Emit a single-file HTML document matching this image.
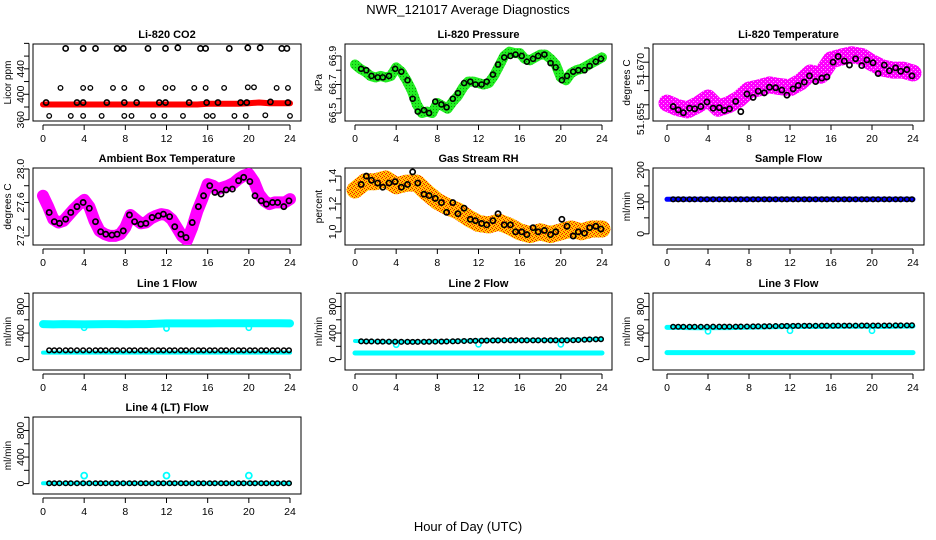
<!DOCTYPE html>
<html><head><meta charset="utf-8"><style>
html,body{margin:0;padding:0;background:#fff;}
svg{display:block;font-family:"Liberation Sans",Arial,sans-serif;}
</style></head><body>
<svg id="chart" width="936" height="540" viewBox="0 0 936 540" xmlns="http://www.w3.org/2000/svg">
<defs>
<pattern id="rhpat" width="4" height="4" patternUnits="userSpaceOnUse"><rect width="4" height="4" fill="#ffc400"/><rect x="0" y="0" width="1" height="1" fill="#ee1100"/><rect x="2" y="1" width="1" height="1" fill="#ee1100"/><rect x="1" y="2" width="1" height="1" fill="#ff2200"/><rect x="3" y="3" width="1" height="1" fill="#ff2200"/></pattern>
<pattern id="grpat" width="3" height="3" patternUnits="userSpaceOnUse"><rect width="3" height="3" fill="#22ee22"/><rect x="1" y="1" width="1" height="1" fill="#119911"/></pattern>
<pattern id="mgpat" width="4" height="4" patternUnits="userSpaceOnUse"><rect width="4" height="4" fill="#ff00ff"/><rect x="1" y="1" width="1" height="1" fill="#ff99ff"/><rect x="3" y="3" width="1" height="1" fill="#ffaaff"/></pattern>
</defs>
<rect width="936" height="540" fill="#fff"/>
<text x="468" y="14" font-size="13" text-anchor="middle">NWR_121017  Average Diagnostics</text>
<text x="468" y="531" font-size="13" text-anchor="middle">Hour of Day (UTC)</text>
<g id="panels"></g>
</svg>
<script>
// shared x positions of black (average) points, hours
const blackX = [0.6,1.1,1.6,2.2,2.7,3.3,3.9,4.5,5.1,5.6,6.1,6.7,7.2,7.8,8.4,8.9,9.5,10.0,10.6,11.2,11.7,12.3,12.8,13.4,13.9,14.5,15.1,15.6,16.2,16.7,17.3,17.8,18.4,19.0,19.5,20.1,20.6,21.2,21.7,22.3,22.8,23.4,23.9];
const bandXHalf = [0,0.5,1,1.5,2,2.5,3,3.5,4,4.5,5,5.5,6,6.5,7,7.5,8,8.5,9,9.5,10,10.5,11,11.5,12,12.5,13,13.5,14,14.5,15,15.5,16,16.5,17,17.5,18,18.5,19,19.5,20,20.5,21,21.5,22,22.5,23,23.5,24];
const bandXHour = [0,1,2,3,4,5,6,7,8,9,10,11,12,13,14,15,16,17,18,19,20,21,22,23,24];
const xTicks = [0,4,8,12,16,20,24];

// CO2
const co2BandY = [384,384,384,384,384,384,384,384,384,384,384,384,384,384,384,384,385,385,385,385,386,387,386,386,386];
const co2TopX = [2.2,3.9,5.1,7.2,7.8,10.2,11.9,13.1,15.3,15.8,18.1,19.9,21.1,23.2,23.7];
const co2TopY = [472,472,472,472,472,472,472,473,472,472,472,473,473,472,472];
const co2MidX = [1.7,3.9,4.6,6.8,7.9,9.6,11.9,12.6,14.7,15.8,17.6,19.9,20.5,22.7,23.8];
const co2MidY = [410,410,410,410,410,410,410,410,410,410,410,411,411,410,410];
const co2LowX = [0.3,3.3,3.9,6.2,7.9,9.1,11.3,11.9,14.2,15.9,17.0,19.2,19.8,22.1,23.8];
const co2LowY = [387,387,387,387,387,387,387,387,387,387,387,387,387,388,387];
const co2BotX = [0.6,2.7,3.9,5.7,7.9,8.6,10.7,11.8,13.6,15.9,16.5,18.6,19.7,21.6,24.0];
const co2BotY = [366,366,366,366,366,366,366,366,366,366,366,366,366,367,366];

// Pressure
const presBand = [66.84,66.81,66.79,66.76,66.75,66.76,66.75,66.76,66.82,66.79,66.73,66.66,66.56,66.5,66.51,66.5,66.57,66.55,66.53,66.58,66.62,66.68,66.72,66.72,66.71,66.7,66.71,66.76,66.83,66.9,66.93,66.92,66.92,66.88,66.87,66.89,66.91,66.91,66.88,66.84,66.75,66.73,66.78,66.8,66.81,66.83,66.85,66.87,66.89];
const presBlack = [66.81,66.8,66.76,66.75,66.75,66.76,66.81,66.79,66.73,66.6,66.51,66.52,66.5,66.58,66.56,66.54,66.6,66.64,66.71,66.72,66.7,66.7,66.72,66.77,66.84,66.89,66.9,66.91,66.9,66.86,66.88,66.9,66.91,66.85,66.82,66.73,66.76,66.79,66.8,66.8,66.83,66.86,66.88];

// Li-820 temperature
const tempBand = [51.6578,51.6570,51.6566,51.6575,51.6587,51.6569,51.6575,51.6585,51.6601,51.6605,51.6610,51.6607,51.6605,51.6615,51.6631,51.6627,51.6654,51.6659,51.6663,51.6660,51.6649,51.6640,51.6636,51.6636,51.6631];
const tempBlack = [51.6572,51.6566,51.6561,51.6569,51.6568,51.6572,51.6580,51.6569,51.6570,51.6565,51.6568,51.6581,51.6563,51.6594,51.6588,51.6599,51.6596,51.6606,51.6605,51.6601,51.6592,51.6603,51.6609,51.6615,51.6626,51.6616,51.6622,51.6624,51.6650,51.6660,51.6652,51.6645,51.6656,51.6644,51.6654,51.6649,51.6630,51.6645,51.6635,51.6640,51.6634,51.6637,51.6626];
const tempTicks = [51.655,51.6575,51.660,51.6625,51.665,51.6675];
const tempLabelVals = [51.655,51.6638];
const tempLabels = ["51.655","51.670"];

// Ambient box temperature
const ambBand = [27.68,27.55,27.4,27.36,27.38,27.45,27.52,27.58,27.63,27.55,27.38,27.26,27.22,27.2,27.2,27.22,27.3,27.45,27.4,27.35,27.36,27.41,27.44,27.46,27.45,27.4,27.3,27.2,27.15,27.3,27.5,27.65,27.82,27.8,27.76,27.78,27.8,27.83,27.88,27.92,27.94,27.85,27.7,27.62,27.58,27.6,27.6,27.6,27.64];
const ambBlack = [27.48,27.37,27.35,27.4,27.48,27.55,27.6,27.53,27.37,27.25,27.22,27.21,27.22,27.26,27.45,27.37,27.34,27.35,27.42,27.44,27.46,27.43,27.31,27.22,27.18,27.36,27.55,27.68,27.8,27.72,27.7,27.75,27.76,27.86,27.9,27.85,27.68,27.62,27.58,27.6,27.6,27.55,27.62];

// Gas stream RH
const rhBand = [1.3,1.36,1.36,1.38,1.33,1.35,1.35,1.28,1.22,1.18,1.15,1.1,1.06,1.05,1.07,1.04,1.0,0.98,1.0,0.98,1.0,1.02,1.0,1.02,1.02];
const rhBlack = [1.34,1.4,1.37,1.35,1.32,1.35,1.36,1.32,1.34,1.43,1.35,1.27,1.26,1.24,1.21,1.14,1.21,1.13,1.17,1.09,1.08,1.06,1.05,1.08,1.13,1.05,1.05,1.0,1.0,0.98,1.03,1.0,1.01,0.98,1.0,1.09,1.04,0.97,1.0,0.99,1.03,1.04,1.02];

// Sample flow
const sampleBand = [108,108,108,108,108,108,108,108,108,108,108,108,108,108,108,108,108,108,108,108,108,108,108,108,108];
const sampleBlack = [108,108,108,108,108,108,108,108,108,108,108,108,108,108,108,108,108,108,108,108,108,108,108,108,108,108,108,108,108,108,108,108,108,108,108,108,108,108,108,108,108,108,108];

// Line flows
const l1Upper = [535,530,535,532,530,533,535,535,532,535,535,540,545,545,545,545,545,548,548,548,548,548,548,548,545];
const l1Lower = [105,105,105,105,105,105,105,105,105,105,105,105,105,105,105,105,105,105,105,105,105,105,105,105,105];
const l1Black = [140,140,140,140,140,140,140,140,140,140,140,140,140,140,140,140,140,140,140,140,140,140,140,140,140,140,140,140,140,140,140,140,140,140,140,140,140,140,140,140,140,140,140];
const l1OutX = [4,12,20];
const l1OutY = [480,470,480];

const l2Upper = [280,275,272,270,268,268,270,272,275,278,282,285,290,292,295,295,295,295,295,295,295,298,302,308,310];
const l2Lower = [100,100,100,100,100,100,100,100,100,100,100,100,100,100,100,100,100,100,100,100,100,100,100,100,100];
const l2Black = [275,274,273,272,271,270,270,268,268,267,268,268,270,271,272,273,275,277,280,282,284,285,287,288,289,290,290,290,290,290,290,290,291,291,291,290,290,292,295,300,304,306,308];
const l2OutX = [4,12,20];
const l2OutY = [225,230,230];

const l3Upper = [485,485,482,480,480,482,483,485,490,492,495,498,500,500,500,500,500,502,502,502,500,500,502,505,505];
const l3Lower = [105,105,105,105,105,105,105,105,105,105,105,105,105,105,105,105,105,105,105,105,105,105,105,105,105];
const l3Black = [495,495,495,495,495,495,495,496,496,496,497,497,498,499,500,501,502,503,505,506,507,508,509,510,510,510,511,511,511,512,512,512,512,513,513,513,513,514,514,515,515,516,517];
const l3OutX = [4,12,20];
const l3OutY = [425,435,435];

const l4Upper = [5,5,5,5,5,5,5,5,5,5,5,5,5,5,5,5,5,5,5,5,5,5,5,5,5];
const l4Black = [5,5,5,5,5,5,5,5,5,5,5,5,5,5,5,5,5,5,5,5,5,5,5,5,5,5,5,5,5,5,5,5,5,5,5,5,5,5,5,5,5,5,5];
const l4OutX = [4,12,20];
const l4OutY = [120,120,120];

const flowTicks = [0,200,400,600,800,1000];
const flowLabels = [0,400,800];

const NS = "http://www.w3.org/2000/svg";
const root = document.getElementById('panels');
const cols = [{l:33,r:301,x0:43,x24:290,tl:24,yl:11},{l:345,r:612,x0:355,x24:602,tl:336,yl:322},{l:653,r:924,x0:667,x24:913,tl:644,yl:630}];
const rowsTop = [44,168,293,417];
const boxH = 77;

function mk(tag, attrs, parent){const e=document.createElementNS(NS,tag);for(const k in attrs)e.setAttribute(k,attrs[k]);parent.appendChild(e);return e;}

function makePanel(col,row,name,title,ylab,lo,hi,ticks,labVals,labTexts){
  const c=cols[col],top=rowsTop[row],bot=top+boxH;
  const g=mk('g',{},root);
  
  
  const sx=v=>c.x0+(v/24)*(c.x24-c.x0);
  const sy=v=>bot-(v-lo)/(hi-lo)*boxH;
  const box=mk('rect',{x:c.l,y:top,width:c.r-c.l,height:boxH,fill:'none',stroke:'#000','stroke-width':1},g);
  
  
  const t=mk('text',{x:(c.l+c.r)/2,y:top-6,'font-size':11,'font-weight':'bold','text-anchor':'middle'},g);
  t.textContent=title;
  
  
  const yt=mk('text',{x:c.yl,y:(top+bot)/2,'font-size':10,'text-anchor':'middle',transform:`rotate(-90 ${c.yl} ${(top+bot)/2})`},g);
  yt.textContent=ylab;
  
  
  const xa=mk('g',{},g);
  
  
  mk('line',{x1:sx(0),x2:sx(24),y1:bot+4,y2:bot+4,stroke:'#000'},xa);
  xTicks.forEach(v=>{mk('line',{x1:sx(v),x2:sx(v),y1:bot+4,y2:bot+9,stroke:'#000'},xa);
    const tx=mk('text',{x:sx(v),y:bot+21,'font-size':10.5,'text-anchor':'middle'},xa);tx.textContent=v;
    
    });
  const ya=mk('g',{},g);
  
  
  const ax=c.l-4;
  mk('line',{x1:ax,x2:ax,y1:sy(ticks[0]),y2:sy(ticks[ticks.length-1]),stroke:'#000'},ya);
  ticks.forEach(v=>mk('line',{x1:ax-5,x2:ax,y1:sy(v),y2:sy(v),stroke:'#000'},ya));
  labVals.forEach((v,i)=>{const y=sy(v);const tx=mk('text',{x:c.tl,y:y,'font-size':10.5,'text-anchor':'middle',transform:`rotate(-90 ${c.tl} ${y})`},ya);
    tx.textContent=labTexts[i];
    
    });
  const clipId='clip'+name;
  const cp=mk('clipPath',{id:clipId},g);mk('rect',{x:c.l,y:top,width:c.r-c.l,height:boxH},cp);
  const data=mk('g',{'clip-path':`url(#${clipId})`},g);
  return {g:data,sx,sy};
}
function band(p,name,xs,ys,color,w){
  const pts=xs.map((x,i)=>p.sx(x).toFixed(1)+','+p.sy(ys[i]).toFixed(1)).join(' ');
  const e=mk('polyline',{points:pts,fill:'none',stroke:color,'stroke-width':w,'stroke-linejoin':'round','stroke-linecap':'round'},p.g);
  
  
}
function pts(p,name,xs,ys,color,r,sw){
  const gg=mk('g',{},p.g);
  
  
  xs.forEach((x,i)=>{const c=mk('circle',{cx:p.sx(x),cy:p.sy(ys[i]),r:r,fill:'none',stroke:color,'stroke-width':sw},gg);
    
    });
}

let p=makePanel(0,0,'co2','Li-820 CO2','Licor ppm',358,479,[360,380,400,420,440,460,480],[360,400,440],['360','400','440']);
band(p,'co2-all-band',bandXHour,co2BandY,'#ff0000',6);
pts(p,'co2-top-points',co2TopX,co2TopY,'#000',2.6,1.6);
pts(p,'co2-mid-points',co2MidX,co2MidY,'#000',2.3,1.3);
pts(p,'co2-low-points',co2LowX,co2LowY,'#000',2.6,1.6);
pts(p,'co2-bottom-points',co2BotX,co2BotY,'#000',2.3,1.3);

p=makePanel(1,0,'pressure','Li-820 Pressure','kPa',66.444,66.984,[66.5,66.6,66.7,66.8,66.9],[66.5,66.7,66.9],['66.5','66.7','66.9']);
band(p,'pressure-all-band',bandXHalf,presBand,'url(#grpat)',10);
pts(p,'pressure-avg-points',blackX,presBlack,'#000',2.5,1.6);

p=makePanel(2,0,'li820-temp','Li-820 Temperature','degrees C',51.65465,51.6682,tempTicks,tempLabelVals,tempLabels);
band(p,'li820-temp-all-band',bandXHour,tempBand,'url(#mgpat)',17);
pts(p,'li820-temp-avg-points',blackX,tempBlack,'#000',2.6,1.7);

p=makePanel(0,1,'ambient','Ambient Box Temperature','degrees C',27.091,28.012,[27.2,27.4,27.6,27.8,28.0],[27.2,27.6,28.0],['27.2','27.6','28.0']);
band(p,'ambient-all-band',bandXHalf,ambBand,'#ff00ff',12);
pts(p,'ambient-avg-points',blackX,ambBlack,'#000',2.6,1.7);

p=makePanel(1,1,'rh','Gas Stream RH','percent',0.9055,1.458,[1.0,1.1,1.2,1.3,1.4],[1.0,1.2,1.4],['1.0','1.2','1.4']);
band(p,'rh-all-band',bandXHour,rhBand,'url(#rhpat)',17);
pts(p,'rh-avg-points',blackX,rhBlack,'#000',2.6,1.7);

p=makePanel(2,1,'sample-flow','Sample Flow','ml/min',-35,206,[0,50,100,150,200],[0,100,200],['0','100','200']);
band(p,'sample-flow-all-band',bandXHour,sampleBand,'#0000ff',5);
pts(p,'sample-flow-avg-points',blackX,sampleBlack,'#000',2.3,1.5);

p=makePanel(0,2,'line1-flow','Line 1 Flow','ml/min',-157,1004,flowTicks,flowLabels,flowLabels.map(String));
band(p,'line1-upper-band',bandXHour,l1Upper,'#00ffff',8);
band(p,'line1-lower-band',bandXHour,l1Lower,'#00ffff',4);
pts(p,'line1-outliers',l1OutX,l1OutY,'#00ffff',2.6,1.6);
pts(p,'line1-avg-points',blackX,l1Black,'#000',2.3,1.5);

p=makePanel(1,2,'line2-flow','Line 2 Flow','ml/min',-157,1004,flowTicks,flowLabels,flowLabels.map(String));
band(p,'line2-upper-band',bandXHour,l2Upper,'#00ffff',4);
band(p,'line2-lower-band',bandXHour,l2Lower,'#00ffff',5);
pts(p,'line2-outliers',l2OutX,l2OutY,'#00ffff',2.6,1.6);
pts(p,'line2-avg-points',blackX,l2Black,'#000',2.3,1.5);

p=makePanel(2,2,'line3-flow','Line 3 Flow','ml/min',-157,1004,flowTicks,flowLabels,flowLabels.map(String));
band(p,'line3-upper-band',bandXHour,l3Upper,'#00ffff',5);
band(p,'line3-lower-band',bandXHour,l3Lower,'#00ffff',5);
pts(p,'line3-outliers',l3OutX,l3OutY,'#00ffff',2.6,1.6);
pts(p,'line3-avg-points',blackX,l3Black,'#000',2.3,1.5);

p=makePanel(0,3,'line4-flow','Line 4 (LT) Flow','ml/min',-157,1004,flowTicks,flowLabels,flowLabels.map(String));
band(p,'line4-band',bandXHour,l4Upper,'#00ffff',4);
pts(p,'line4-outliers',l4OutX,l4OutY,'#00ffff',3,1.8);
pts(p,'line4-avg-points',blackX,l4Black,'#000',2.3,1.5);
</script>
</body></html>
